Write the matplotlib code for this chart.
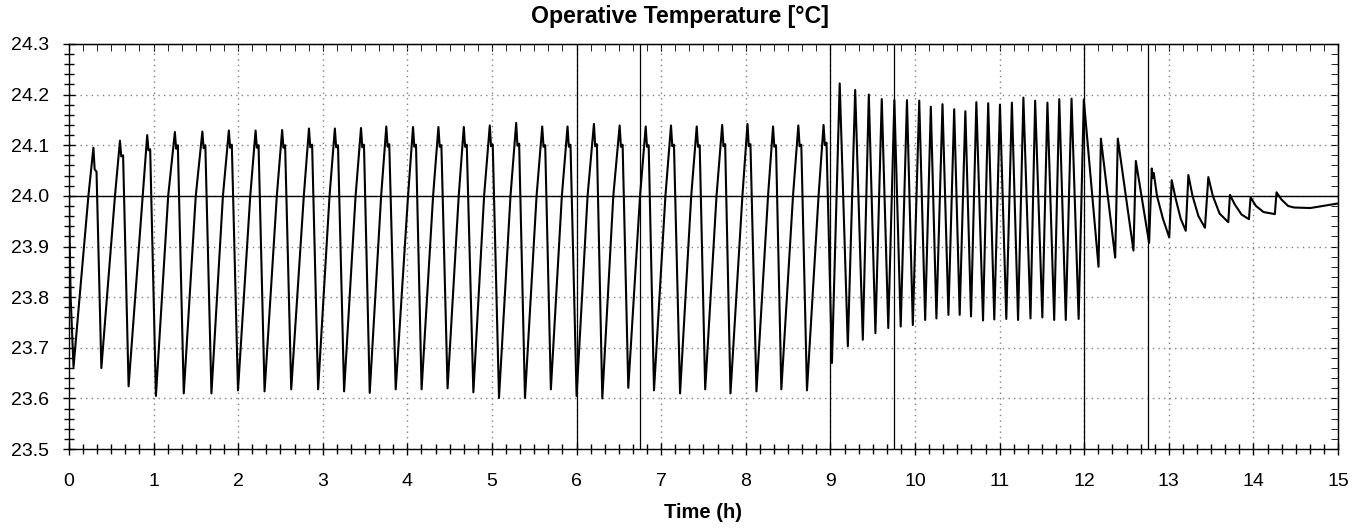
import matplotlib
matplotlib.use("Agg")
import matplotlib.pyplot as plt
from matplotlib.ticker import MultipleLocator, FormatStrFormatter

plt.rcParams['font.family'] = ['Liberation Sans', 'DejaVu Sans']

REF_TEMP = 24.0

# start-up transient
start_t = [0.0, 0.005, 0.02]
start_v = [24.02, 23.95, 23.80]

# 0-9 h : slow cycles (trough -> 24.0 crossing -> peak -> dip -> knee -> next trough)
trough_t = [0.054, 0.383, 0.705, 1.028, 1.357, 1.684, 1.998, 2.312, 2.627, 2.945,
            3.252, 3.555, 3.862, 4.168, 4.475, 4.780, 5.083, 5.390, 5.696, 6.000,
            6.304, 6.611, 6.915, 7.223, 7.520, 7.819, 8.126, 8.420, 8.723, 9.018]
trough_v = [23.662, 23.660, 23.624, 23.605, 23.610, 23.610, 23.616, 23.614, 23.618, 23.618,
            23.614, 23.611, 23.618, 23.618, 23.620, 23.612, 23.601, 23.601, 23.618, 23.605,
            23.600, 23.621, 23.616, 23.610, 23.618, 23.610, 23.614, 23.618, 23.616, 23.670]
cross_t = [0.230, 0.544, 0.871, 1.173, 1.499, 1.820, 2.143, 2.457, 2.776, 3.080,
           3.388, 3.690, 4.008, 4.304, 4.607, 4.907, 5.219, 5.527, 5.826, 6.130,
           6.434, 6.750, 7.050, 7.355, 7.654, 7.960, 8.263, 8.558, 8.860]
peak_t = [0.289, 0.603, 0.925, 1.252, 1.577, 1.890, 2.206, 2.520, 2.837, 3.143,
          3.452, 3.751, 4.067, 4.367, 4.667, 4.974, 5.286, 5.594, 5.893, 6.205,
          6.509, 6.817, 7.116, 7.420, 7.721, 8.020, 8.322, 8.621, 8.919]
peak_v = [24.095, 24.109, 24.120, 24.126, 24.127, 24.129, 24.129, 24.130, 24.133, 24.133,
          24.134, 24.137, 24.136, 24.136, 24.136, 24.139, 24.144, 24.137, 24.137, 24.142,
          24.139, 24.137, 24.139, 24.137, 24.140, 24.142, 24.137, 24.139, 24.140]
dip_t = [0.304, 0.618, 0.940, 1.267, 1.592, 1.905, 2.221, 2.535, 2.852, 3.158,
         3.467, 3.766, 4.082, 4.382, 4.682, 4.989, 5.301, 5.609, 5.908, 6.220,
         6.524, 6.832, 7.131, 7.435, 7.736, 8.035, 8.337, 8.636, 8.934]
dip_v = [24.052, 24.078, 24.090, 24.093, 24.094, 24.095, 24.095, 24.095, 24.096, 24.096,
         24.096, 24.097, 24.097, 24.097, 24.097, 24.098, 24.099, 24.097, 24.097, 24.098,
         24.097, 24.097, 24.098, 24.097, 24.098, 24.098, 24.097, 24.098, 24.100]
knee_t = [0.326, 0.640, 0.960, 1.287, 1.612, 1.925, 2.241, 2.555, 2.874, 3.180,
          3.487, 3.786, 4.102, 4.402, 4.702, 5.009, 5.321, 5.629, 5.928, 6.240,
          6.544, 6.852, 7.151, 7.455, 7.756, 8.055, 8.357, 8.656, 8.954]
knee_v = [24.048, 24.080, 24.092, 24.100, 24.100, 24.101, 24.100, 24.100, 24.101, 24.100,
          24.101, 24.102, 24.101, 24.100, 24.101, 24.101, 24.103, 24.100, 24.101, 24.102,
          24.101, 24.100, 24.101, 24.100, 24.102, 24.102, 24.100, 24.101, 24.105]

# 9-12 h : fast cycles
fast_peak_t = [9.110, 9.293, 9.454, 9.607, 9.756, 9.905, 10.050, 10.187, 10.325, 10.463,
               10.595, 10.725, 10.865, 11.004, 11.145, 11.281, 11.420, 11.565, 11.705, 11.850,
               11.995]
fast_peak_v = [24.222, 24.209, 24.200, 24.191, 24.189, 24.189, 24.188, 24.176, 24.181, 24.171,
               24.167, 24.185, 24.183, 24.180, 24.184, 24.194, 24.188, 24.184, 24.191, 24.192,
               24.190]
fast_trough_t = [9.206, 9.383, 9.532, 9.684, 9.831, 9.974, 10.120, 10.253, 10.395, 10.528,
                 10.662, 10.804, 10.937, 11.079, 11.218, 11.365, 11.505, 11.645, 11.782, 11.934]
fast_trough_v = [23.703, 23.716, 23.729, 23.739, 23.742, 23.745, 23.755, 23.758, 23.765, 23.765,
                 23.762, 23.754, 23.756, 23.757, 23.755, 23.758, 23.760, 23.755, 23.755, 23.757]

# 12-15 h : damped tail
tail_t = [12.169, 12.197, 12.366, 12.397, 12.582, 12.610, 12.767, 12.798, 12.810, 12.822,
          12.860, 12.930, 13.005, 13.034, 13.080, 13.140, 13.200, 13.231, 13.280, 13.350,
          13.427, 13.467, 13.520, 13.600, 13.703, 13.722, 13.780, 13.860, 13.947, 13.966,
          14.030, 14.120, 14.253, 14.273, 14.330, 14.410, 14.480, 14.674, 15.000]
tail_v = [23.860, 24.113, 23.878, 24.113, 23.892, 24.069, 23.907, 24.054, 24.035, 24.045,
          24.000, 23.955, 23.918, 24.031, 23.995, 23.955, 23.931, 24.041, 24.000, 23.960,
          23.937, 24.037, 24.000, 23.965, 23.948, 24.002, 23.983, 23.963, 23.954, 23.997,
          23.980, 23.968, 23.964, 24.007, 23.993, 23.980, 23.977, 23.976, 23.985]

# vertical marker lines (h)
event_lines = [6, 6.75, 9, 9.75, 12, 12.75]

# build the one curve from the pieces
time = list(start_t)
temp = list(start_v)
for i in range(len(peak_t)):
    time += [trough_t[i], cross_t[i], peak_t[i], dip_t[i], knee_t[i]]
    temp += [trough_v[i], REF_TEMP, peak_v[i], dip_v[i], knee_v[i]]
time.append(trough_t[-1])
temp.append(trough_v[-1])
for i in range(len(fast_trough_t)):
    time += [fast_peak_t[i], fast_trough_t[i]]
    temp += [fast_peak_v[i], fast_trough_v[i]]
time.append(fast_peak_t[-1])
temp.append(fast_peak_v[-1])
time += tail_t
temp += tail_v

fig = plt.figure(figsize=(13.68, 5.29), dpi=100)
ax = fig.add_axes([0.0504, 0.151, 0.9277, 0.766])

ax.grid(True, which='major', color='#808080', linestyle=(0, (1, 3)), linewidth=1.0)
ax.axhline(REF_TEMP, color='black', linewidth=1.0, zorder=2)
for x in event_lines:
    ax.axvline(x, color='black', linewidth=0.9, zorder=2)

ax.plot(time, temp, color='black', linewidth=1.5, zorder=3)

ax.set_xlim(0, 15)
ax.set_ylim(23.5, 24.3)
ax.xaxis.set_major_locator(MultipleLocator(1))
ax.xaxis.set_minor_locator(MultipleLocator(1 / 6))
ax.yaxis.set_major_locator(MultipleLocator(0.1))
ax.yaxis.set_minor_locator(MultipleLocator(0.02))
ax.yaxis.set_major_formatter(FormatStrFormatter('%.1f'))

ax.tick_params(which='major', direction='inout', length=9, width=1, labelsize=14)
ax.tick_params(which='minor', direction='inout', length=7, width=1)
ax.tick_params(axis='x', which='major', pad=13)
ax.tick_params(axis='y', which='major', pad=10)

# ticks on top and right, pointing inward
top = ax.secondary_xaxis('top')
top.xaxis.set_major_locator(MultipleLocator(1))
top.xaxis.set_minor_locator(MultipleLocator(1 / 6))
top.tick_params(which='both', direction='in', length=5, labeltop=False)
right = ax.secondary_yaxis('right')
right.yaxis.set_major_locator(MultipleLocator(0.1))
right.yaxis.set_minor_locator(MultipleLocator(0.02))
right.tick_params(which='both', direction='in', length=5, labelright=False)

for s in ax.spines.values():
    s.set_linewidth(1.0)

fig.text(680 / 1368, 1 - 17 / 529, 'Operative Temperature [°C]',
         fontsize=16.7, fontweight='bold', ha='center', va='center')
ax.set_xlabel('Time (h)', fontsize=14.5, fontweight='bold', labelpad=9)

fig.savefig('out.png', dpi=100)
